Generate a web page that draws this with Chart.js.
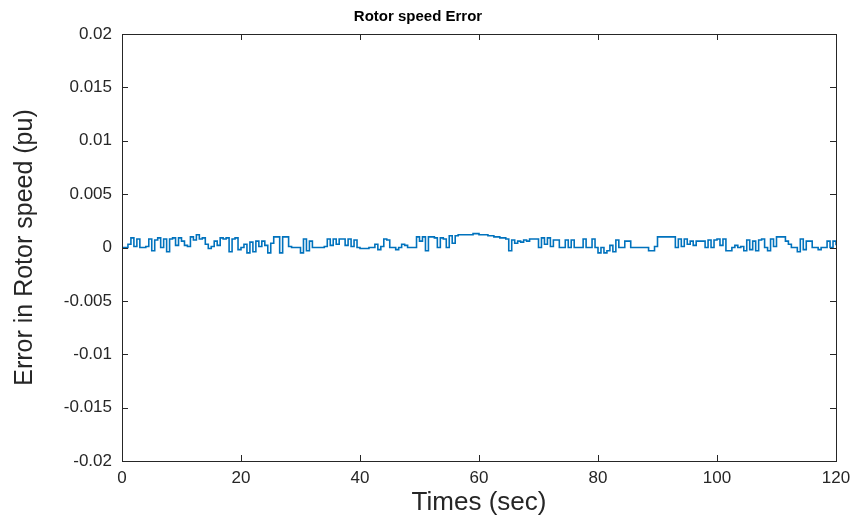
<!DOCTYPE html>
<html>
<head>
<meta charset="utf-8">
<script src="https://cdn.jsdelivr.net/npm/chart.js@4"></script>
<style>
  html, body { margin: 0; padding: 0; background: #fff; }
  #wrap { width: 853px; height: 518px; }
</style>
</head>
<body>
<div id="wrap"><canvas id="rotorChart"></canvas></div>
<script>
const sampleStep = 0.5;
const err0to20 = [0,0,3,9,1,8,0,0,1,8,-3,7,9,0,8,-4,8,9,2,9,6,2,1,10,7,12,8,9,3,-1,1,6,2,9,8,9,-4,8,9,-2];
const err20to40 = [0,3,-5,5,-4,6,1,6,2,-5,4,10,10,-5,10,10,1,0,0,0,-5,8,-3,6,0,0,0,0,1,8,2,8,3,8,8,2,8,1,7,0];
const err40to60 = [-1,-1,-1,0,0,3,-2,1,8,7,0,0,-2,0,3,2,0,0,0,10,6,10,-3,10,10,9,0,9,8,0,11,4,11,12,12,12,12,12,13,13];
const err60to80 = [12,12,12,11,11,10,10,9,9,8,-3,7,4,6,5,7,6,8,8,8,0,9,3,9,1,7,7,0,0,7,0,7,0,0,0,8,0,0,8,0];
const err80to100 = [-5,0,-5,-3,2,-4,7,0,0,6,6,0,0,0,0,0,0,-3,-3,1,10,10,10,10,10,10,0,8,1,8,3,6,2,6,6,6,0,7,0,7];
const err100to120 = [8,2,8,-3,-3,0,2,0,1,-3,7,-2,6,-3,7,8,0,-3,8,1,10,10,10,6,3,0,0,-4,8,-2,6,6,0,0,-2,0,0,6,0,6,2];
const xTicks = [0, 20, 40, 60, 80, 100, 120];
const yTicks = [-0.02, -0.015, -0.01, -0.005, 0, 0.005, 0.01, 0.015, 0.02];

const errAll = [...err0to20, ...err20to40, ...err40to60, ...err60to80, ...err80to100, ...err100to120];
const points = errAll.map((v, i) => ({ x: i * sampleStep, y: v * 1e-4 }));

const textColor = '#262626';
const fontFam = '"Liberation Sans", Arial, sans-serif';

// matlab style box with inward ticks on all four sides
const boxPlugin = {
  id: 'boxPlugin',
  afterDatasetsDraw(chart) {
    const { ctx, chartArea: a, scales } = chart;
    const len = 6;
    ctx.save();
    ctx.strokeStyle = '#262626';
    ctx.lineWidth = 1;
    ctx.beginPath();
    xTicks.forEach(t => {
      const px = Math.round(scales.x.getPixelForValue(t)) + 0.5;
      ctx.moveTo(px, a.bottom); ctx.lineTo(px, a.bottom - len);
      ctx.moveTo(px, a.top); ctx.lineTo(px, a.top + len);
    });
    yTicks.forEach(t => {
      const py = Math.round(scales.y.getPixelForValue(t)) + 0.5;
      ctx.moveTo(a.left, py); ctx.lineTo(a.left + len, py);
      ctx.moveTo(a.right, py); ctx.lineTo(a.right - len, py);
    });
    ctx.stroke();
    ctx.strokeRect(Math.round(a.left) + 0.5, Math.round(a.top) + 0.5,
      Math.round(a.right - a.left), Math.round(a.bottom - a.top));
    ctx.restore();
  }
};

new Chart(document.getElementById('rotorChart'), {
  type: 'line',
  data: {
    datasets: [{
      data: points,
      borderColor: '#0072BD',
      borderWidth: 1.6,
      pointRadius: 0,
      stepped: true,
      fill: false
    }]
  },
  options: {
    responsive: true,
    maintainAspectRatio: false,
    animation: false,
    layout: { padding: { top: 8, right: 17, left: 0, bottom: 0 } },
    plugins: {
      legend: { display: false },
      tooltip: { enabled: false },
      title: {
        display: true,
        text: 'Rotor speed Error',
        color: '#000',
        font: { family: fontFam, size: 15, weight: 'bold' },
        padding: { top: 0, bottom: 8 }
      }
    },
    scales: {
      x: {
        type: 'linear',
        min: 0,
        max: 120,
        afterBuildTicks: s => { s.ticks = xTicks.map(v => ({ value: v })); },
        grid: { display: false, drawTicks: false },
        border: { display: false },
        ticks: { color: textColor, padding: 7, maxRotation: 0, font: { family: fontFam, size: 17 } },
        title: {
          display: true,
          text: 'Times (sec)',
          color: textColor,
          font: { family: fontFam, size: 26 },
          padding: { top: 0, bottom: 0 }
        },
        afterFit: s => { s.height = 57; s.paddingLeft = 0; s.paddingRight = 0; }
      },
      y: {
        min: -0.02,
        max: 0.02,
        afterBuildTicks: s => { s.ticks = yTicks.map(v => ({ value: v })); },
        grid: { display: false, drawTicks: false },
        border: { display: false },
        ticks: {
          color: textColor,
          padding: 10,
          font: { family: fontFam, size: 17 },
          callback: v => String(Math.round(v * 1000) / 1000)
        },
        title: {
          display: true,
          text: 'Error in Rotor speed (pu)',
          color: textColor,
          font: { family: fontFam, size: 25 },
          padding: { top: 10, bottom: 4 }
        },
        afterFit: s => { s.width = 122; }
      }
    }
  },
  plugins: [boxPlugin]
});
</script>
</body>
</html>
